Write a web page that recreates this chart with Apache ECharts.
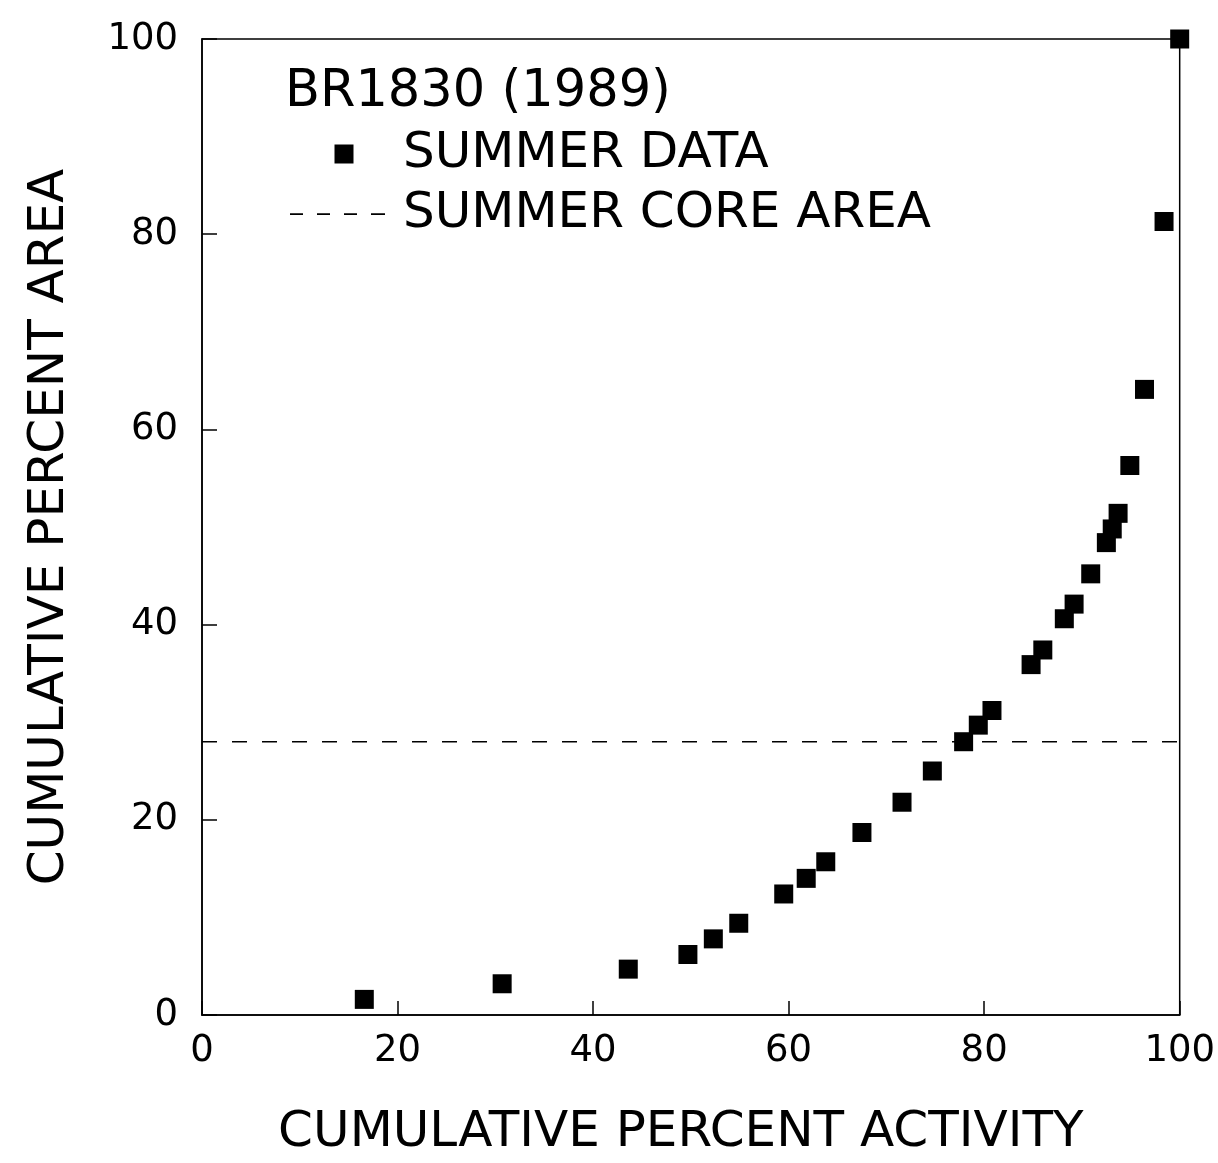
<!DOCTYPE html>
<html>
<head>
<meta charset="utf-8">
<title>BR1830 (1989)</title>
<script src="https://cdn.jsdelivr.net/npm/echarts@6/dist/echarts.min.js"></script>
<style>
  html, body { margin: 0; padding: 0; background: #fff; }
  #chart { width: 1218px; height: 1163px; }
</style>
</head>
<body>
<div id="chart"></div>
<script>
// cumulative percent activity (x) / cumulative percent area (y), summer fixes
const activity = [16.6, 30.7, 43.6, 49.7, 52.3, 54.9, 59.5, 61.8, 63.8, 67.5, 71.6, 74.7,
  77.9, 79.4, 80.8, 84.8, 86.0, 88.2, 89.2, 90.9, 92.5, 93.1, 93.7, 94.9, 96.4, 98.4, 100]
const area = [1.6, 3.2, 4.7, 6.2, 7.8, 9.4, 12.4, 14.0, 15.7, 18.7, 21.8, 25.0,
  28.0, 29.7, 31.2, 35.9, 37.4, 40.6, 42.1, 45.2, 48.4, 49.8, 51.4, 56.3, 64.1, 81.3, 100]
// summer core area level, drawn across the whole x range
const coreX = [0, 100]
const coreY = [28, 28]
const axisTicks = [0, 20, 40, 60, 80, 100]

const font = 'DejaVu Sans'

// legend icons live in a 108x19 slot; the leading M points only fix the bounds
const squareIcon = 'path://M0,0 M108,19 M44.5,0 L63.5,0 L63.5,19 L44.5,19 Z'
const dashIcon = 'path://M0,0 M108,19 ' +
  'M0,8.8 h13 v1.6 h-13 Z M27,8.8 h13 v1.6 h-13 Z M54,8.8 h13 v1.6 h-13 Z M81,8.8 h14 v1.6 h-14 Z'

const chart = echarts.init(document.getElementById('chart'), null, { renderer: 'canvas' })

chart.setOption({
  backgroundColor: '#fff',
  animation: false,
  title: {
    text: 'BR1830 (1989)',
    left: 285,
    top: 67,
    padding: 0,
    textStyle: { fontFamily: font, fontSize: 51, fontWeight: 'normal', color: '#000' }
  },
  legend: {
    orient: 'vertical',
    left: 290,
    top: 129,
    padding: 0,
    itemWidth: 108,
    itemHeight: 19,
    itemGap: 10,
    textStyle: { fontFamily: font, fontSize: 50, color: '#000' },
    data: [
      { name: 'SUMMER DATA', icon: squareIcon },
      { name: 'SUMMER CORE AREA', icon: dashIcon, itemStyle: { color: '#000' } }
    ]
  },
  grid: {
    left: 202,
    top: 39,
    right: 37,
    bottom: 147,
    show: true,
    borderColor: '#000',
    borderWidth: 1.5,
    containLabel: false
  },
  xAxis: {
    type: 'value',
    min: axisTicks[0],
    max: axisTicks[axisTicks.length - 1],
    interval: 20,
    name: 'CUMULATIVE PERCENT ACTIVITY',
    nameLocation: 'middle',
    nameGap: 93,
    nameTextStyle: { fontFamily: font, fontSize: 50, color: '#000', padding: [0, 20, 0, 0] },
    axisLine: { show: true, lineStyle: { color: '#000', width: 1.5 } },
    axisTick: { show: true, inside: true, length: 14, lineStyle: { color: '#000', width: 1.5 } },
    axisLabel: { fontFamily: font, fontSize: 37, color: '#000', margin: 18 },
    splitLine: { show: false }
  },
  yAxis: {
    type: 'value',
    min: axisTicks[0],
    max: axisTicks[axisTicks.length - 1],
    interval: 20,
    name: 'CUMULATIVE PERCENT AREA',
    nameLocation: 'middle',
    nameGap: 127,
    nameTextStyle: { fontFamily: font, fontSize: 50, color: '#000' },
    axisLine: { show: true, lineStyle: { color: '#000', width: 1.5 } },
    axisTick: { show: true, inside: true, length: 15, lineStyle: { color: '#000', width: 1.5 } },
    axisLabel: { fontFamily: font, fontSize: 37, color: '#000', margin: 24 },
    splitLine: { show: false }
  },
  series: [
    {
      name: 'SUMMER DATA',
      type: 'scatter',
      symbol: 'rect',
      symbolSize: 19,
      itemStyle: { color: '#000', opacity: 1 },
      data: activity.map((x, i) => [x, area[i]])
    },
    {
      name: 'SUMMER CORE AREA',
      type: 'line',
      symbol: 'none',
      lineStyle: { color: '#000', width: 1.5, type: [15, 15] },
      itemStyle: { color: '#000' },
      data: coreX.map((x, i) => [x, coreY[i]])
    }
  ]
})
</script>
</body>
</html>
